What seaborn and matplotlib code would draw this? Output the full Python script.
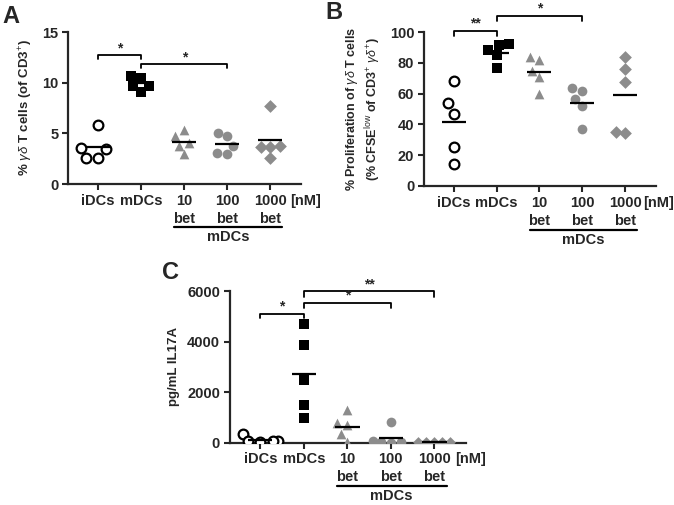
import pandas as pd
import seaborn as sns
import numpy as np
import matplotlib.pyplot as plt

sns.set_style("ticks")
plt.rcParams['font.family'] = ['Liberation Sans', 'DejaVu Sans']
plt.rcParams['mathtext.fontset'] = 'custom'
plt.rcParams['mathtext.rm'] = 'Liberation Sans'
plt.rcParams['mathtext.it'] = 'Liberation Sans:italic'
plt.rcParams['mathtext.bf'] = 'Liberation Sans:bold'

groups = ["iDCs", "mDCs", "10\nbet", "100\nbet", "1000\nbet"]

# panel A: % gd T cells of CD3+
a_idc = [5.8, 3.6, 3.5, 2.6, 2.6]
a_mdc = [10.7, 10.5, 9.7, 9.7, 9.1]
a_10 = [5.3, 4.7, 4.0, 3.8, 3.0]
a_100 = [5.0, 4.7, 3.8, 3.0, 3.1]
a_1000 = [7.7, 3.7, 3.8, 3.7, 2.6]

# panel B: % proliferation
b_idc = [68.5, 53.7, 46.7, 25.4, 14.1]
b_mdc = [92.2, 91.3, 88.0, 85.2, 76.5]
b_10 = [82.0, 83.7, 75.0, 71.0, 59.6]
b_100 = [62.0, 63.7, 56.5, 52.0, 36.7]
b_1000 = [84.0, 76.0, 67.4, 34.1, 35.2]

# panel C: pg/mL IL17A
c_idc = [330, 60, 50, 60, 20]
c_mdc = [4690, 3880, 2490, 1510, 960]
c_10 = [1280, 780, 680, 330, 20]
c_100 = [830, 30, 20, 50, 0]
c_1000 = [10, 10, 10, 10, 10]

gray = "#8c8c8c"
styles = [
    dict(marker="o", color="white", edgecolor="black", linewidth=1.6),
    dict(marker="s", color="black", edgecolor="black", linewidth=0),
    dict(marker="^", color=gray, edgecolor=gray, linewidth=0),
    dict(marker="o", color=gray, edgecolor=gray, linewidth=0),
    dict(marker="D", color=gray, edgecolor=gray, linewidth=0),
]
FS = 10.5


def make_df(lists):
    rows = []
    for g, vals in zip(groups, lists):
        for v in vals:
            rows.append({"group": g, "value": v})
    return pd.DataFrame(rows)


def draw_panel(ax, df, ylim, yticks, ylabel, ylfs, brackets, sizes, nm_x=4.47):
    for i, g in enumerate(groups):
        sub = df[df["group"] == g]
        sns.swarmplot(data=sub, x="group", y="value", order=groups, ax=ax,
                      size=sizes[i], **styles[i])
    means = df.groupby("group", sort=False)["value"].mean()
    for i, g in enumerate(groups):
        ax.hlines(means[g], i - 0.28, i + 0.28, color="black", lw=1.6, zorder=5)
    ax.set_ylim(*ylim)
    ax.set_yticks(yticks)
    ax.set_xlim(-0.7, 4.72)
    ax.set_xlabel("")
    ax.set_ylabel(ylabel, fontsize=ylfs, fontweight="bold", labelpad=5)
    sns.despine(ax=ax)
    for sp in ["left", "bottom"]:
        ax.spines[sp].set_linewidth(1.6)
    ax.tick_params(width=1.5, length=4, labelsize=FS, pad=3)
    for lab in ax.get_xticklabels() + ax.get_yticklabels():
        lab.set_fontweight("bold")
    for lab in ax.get_xticklabels():
        lab.set_linespacing(1.35)
    # [nM] and mDCs group line
    trans = ax.get_xaxis_transform()
    ax.text(nm_x, -0.11, "[nM]", transform=trans, ha="left", va="center",
            fontsize=FS, fontweight="bold")
    ax.plot([1.77, 4.28], [-0.285, -0.285], transform=trans, color="black",
            lw=1.6, clip_on=False)
    ax.text(3.02, -0.35, "mDCs", transform=trans, ha="center", va="center",
            fontsize=FS, fontweight="bold")
    for x0, x1, ytop, ybot, star in brackets:
        ax.plot([x0, x0, x1, x1], [ybot, ytop, ytop, ybot], color="black",
                lw=1.3, clip_on=False)
        ax.text((x0 + x1) / 2, ytop, star, ha="center", va="bottom",
                fontsize=10, fontweight="bold")


fig = plt.figure(figsize=(6.74, 5.05), dpi=100)
axA = fig.add_axes([0.1009, 0.6356, 0.3462, 0.3010])
axB = fig.add_axes([0.629, 0.6317, 0.344, 0.3049])
axC = fig.add_axes([0.341, 0.1235, 0.350, 0.3000])

draw_panel(axA, make_df([a_idc, a_mdc, a_10, a_100, a_1000]), (0, 15),
           [0, 5, 10, 15], r"% $\gamma\delta$ T cells (of CD3$^{+}$)", 9.5,
           [(0, 1, 12.7, 12.35, "*"), (1, 3, 11.8, 11.45, "*")],
           [7, 7, 7, 7, 6.5])
draw_panel(axB, make_df([b_idc, b_mdc, b_10, b_100, b_1000]), (0, 100),
           [0, 20, 40, 60, 80, 100],
           "% Proliferation of $\\gamma\\delta$ T cells\n"
           "(% CFSE$^{\\mathrm{low}}$ of CD3$^{+}$ $\\gamma\\delta^{+}$)", 9,
           [(0, 1, 100.9, 97.5, "**"), (1, 3, 110.6, 107.0, "*")],
           [7, 7, 7, 7, 6.5], nm_x=4.42)
draw_panel(axC, make_df([c_idc, c_mdc, c_10, c_100, c_1000]), (0, 6000),
           [0, 2000, 4000, 6000], "pg/mL IL17A", 9.5,
           [(0, 1, 5110, 4920, "*"), (1, 3, 5540, 5320, "*"),
            (1, 4, 6000, 5770, "**")],
           [7, 7, 7, 7, 5.5])

fig.text(0.004, 0.99, "A", fontsize=17, fontweight="bold", va="top")
fig.text(0.483, 0.998, "B", fontsize=17, fontweight="bold", va="top")
fig.text(0.240, 0.484, "C", fontsize=17, fontweight="bold", va="top")

fig.savefig("out.png", dpi=100)
